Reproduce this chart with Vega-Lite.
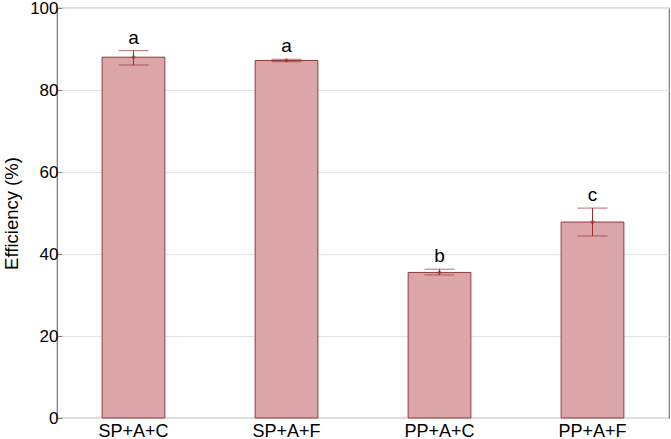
{
  "$schema": "https://vega.github.io/schema/vega-lite/v6.json",
  "width": 612,
  "height": 410,
  "autosize": {"type": "none"},
  "padding": {"left": 57, "top": 8, "right": 2, "bottom": 21},
  "background": "white",
  "config": {
    "view": {"stroke": "#777777", "strokeWidth": 1.2},
    "font": "Liberation Sans"
  },
  "data": {
    "values": [
      {"group": "SP+A+C", "value": 88.0, "lo": 86.1, "hi": 89.6, "letter": "a"},
      {"group": "SP+A+F", "value": 87.2, "lo": 86.9, "hi": 87.5, "letter": "a"},
      {"group": "PP+A+C", "value": 35.5, "lo": 34.9, "hi": 36.3, "letter": "b"},
      {"group": "PP+A+F", "value": 47.8, "lo": 44.4, "hi": 51.2, "letter": "c"}
    ]
  },
  "encoding": {
    "x": {
      "field": "group",
      "type": "nominal",
      "sort": null,
      "scale": {"paddingInner": 0.59, "paddingOuter": 0.295},
      "axis": {
        "title": null,
        "labelAngle": 0,
        "labelFontSize": 18,
        "labelColor": "#000000",
        "labelPadding": 4,
        "ticks": false,
        "domain": false
      }
    }
  },
  "layer": [
    {
      "mark": {"type": "bar", "fill": "#dca5a8", "stroke": "#8c3b3b", "strokeWidth": 1},
      "encoding": {
        "y": {
          "field": "value",
          "type": "quantitative",
          "scale": {"domain": [0, 100], "nice": false},
          "axis": {
            "title": "Efficiency (%)",
            "titleFontSize": 18.5,
            "titleFontWeight": "normal",
            "titleColor": "#000000",
            "titlePadding": 8,
            "values": [0, 20, 40, 60, 80, 100],
            "labelFontSize": 17,
            "labelColor": "#000000",
            "labelPadding": 4,
            "grid": true,
            "gridColor": "#e3e3e3",
            "domain": false,
            "ticks": true,
            "tickSize": -5,
            "tickColor": "#888888",
            "labelFlush": false
          }
        }
      }
    },
    {
      "mark": {"type": "rule", "color": "#9c3030", "strokeWidth": 1},
      "encoding": {
        "y": {"field": "lo", "type": "quantitative"},
        "y2": {"field": "hi"}
      }
    },
    {
      "mark": {"type": "tick", "color": "#9c3030", "size": 30, "thickness": 1},
      "encoding": {"y": {"field": "hi", "type": "quantitative"}}
    },
    {
      "mark": {"type": "tick", "color": "#9c3030", "size": 30, "thickness": 1},
      "encoding": {"y": {"field": "lo", "type": "quantitative"}}
    },
    {
      "mark": {"type": "point", "color": "#9c3030", "size": 10, "filled": false, "strokeWidth": 1},
      "encoding": {"y": {"field": "value", "type": "quantitative"}}
    },
    {
      "mark": {"type": "text", "fontSize": 19, "baseline": "alphabetic", "dy": -7, "color": "#000000"},
      "encoding": {
        "y": {"field": "hi", "type": "quantitative"},
        "text": {"field": "letter"}
      }
    }
  ]
}
